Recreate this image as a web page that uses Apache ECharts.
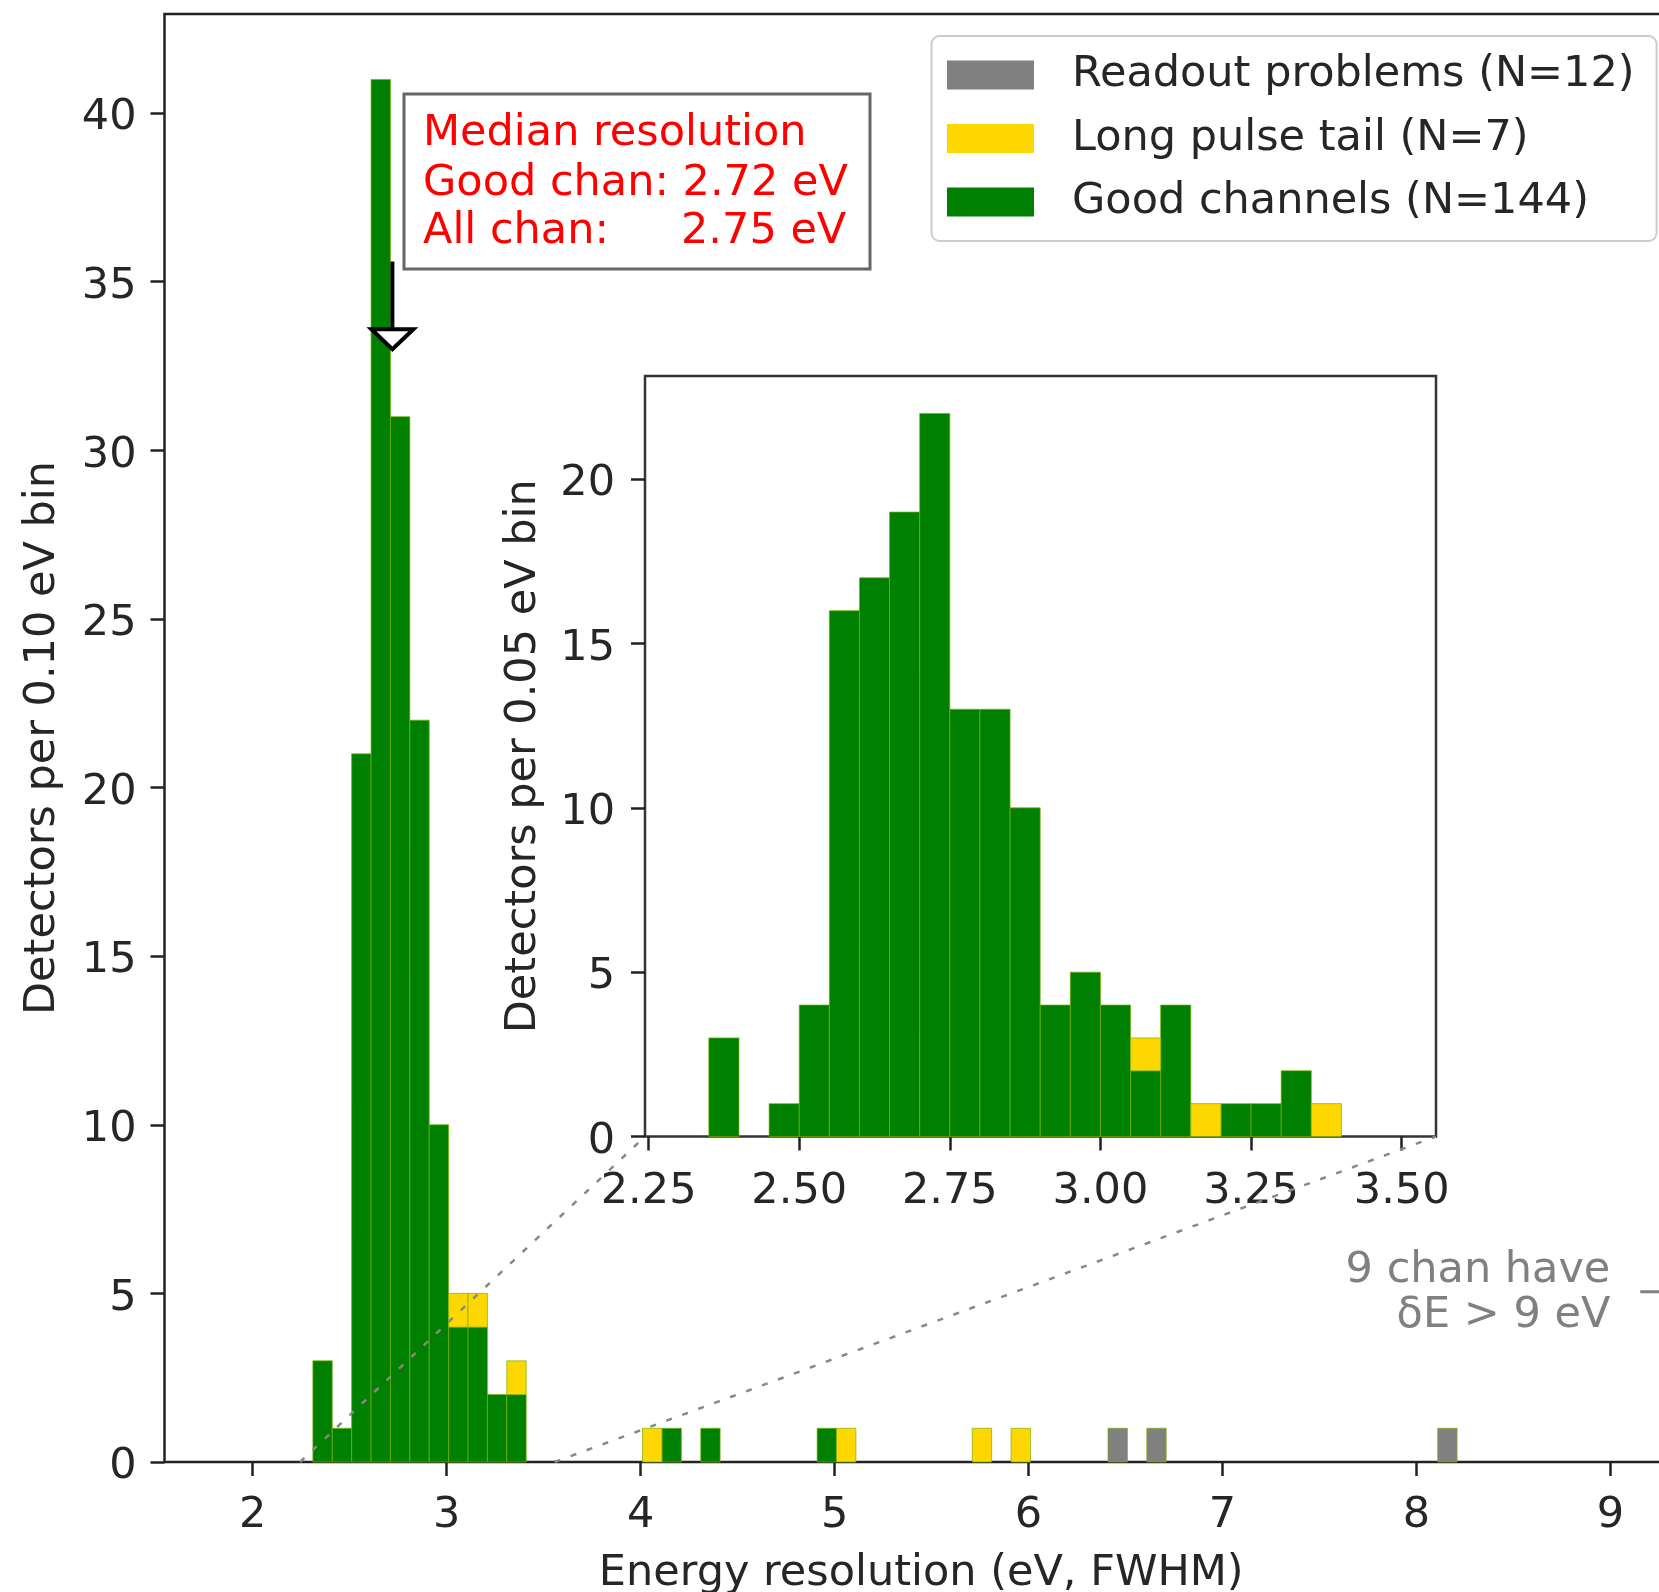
<!DOCTYPE html>
<html lang="en">
  <head>
    <meta charset="UTF-8" />
    <title>Energy resolution histogram</title>
    <script src="https://cdn.jsdelivr.net/npm/echarts@6.0.0/dist/echarts.min.js"></script>
    <style>
      body { margin: 0; background: #fff; }
    </style>
  </head>
  <body>
    <div id="main" style="width: 1659px; height: 1592px"></div>
    <script type="text/javascript">
      // main histogram, 0.10 eV bins (left edges)
      const mainBinWidth = 0.1;
      const mainGoodBins = [2.31, 2.41, 2.51, 2.61, 2.71, 2.81, 2.91, 3.01, 3.11, 3.21, 3.31, 4.11, 4.31, 4.91];
      const mainGoodCounts = [3, 1, 21, 41, 31, 22, 10, 4, 4, 2, 2, 1, 1, 1];
      const mainTailBins = [3.01, 3.11, 3.31, 4.01, 5.01, 5.71, 5.91];
      const mainTailCounts = [1, 1, 1, 1, 1, 1, 1];
      const mainReadoutBins = [6.41, 6.61, 8.11];
      const mainReadoutCounts = [1, 1, 1];

      // inset histogram, 0.05 eV bins
      const insetBinWidth = 0.05;
      const insetBins = [2.35, 2.4, 2.45, 2.5, 2.55, 2.6, 2.65, 2.7, 2.75, 2.8, 2.85,
        2.9, 2.95, 3.0, 3.05, 3.1, 3.15, 3.2, 3.25, 3.3, 3.35];
      const insetGoodCounts = [3, 0, 1, 4, 16, 17, 19, 22, 13, 13, 10, 4, 5, 4, 2, 4, 0, 1, 1, 2, 0];
      const insetTailCounts = [0, 0, 0, 0, 0, 0, 0, 0, 0, 0, 0, 0, 0, 0, 1, 0, 1, 0, 0, 0, 1];

      const mainXTicks = [2, 3, 4, 5, 6, 7, 8, 9];
      const mainYTicks = [0, 5, 10, 15, 20, 25, 30, 35, 40];
      const insetXTicks = [2.25, 2.5, 2.75, 3.0, 3.25, 3.5];
      const insetYTicks = [0, 5, 10, 15, 20];

      const goodMedian = 2.72;
      const insetXMin = 2.244, insetXMax = 3.557;

      const readoutName = "Readout problems (N=12)";
      const tailName = "Long pulse tail (N=7)";
      const goodName = "Good channels (N=144)";

      const FONT = "DejaVu Sans";
      const TXT = "#262626";

      // stacked rectangles [x0, x1, y0, y1]
      function stack(bins, counts, width, base) {
        const out = [];
        bins.forEach((b, i) => {
          if (!counts[i]) return;
          const key = b.toFixed(2);
          const y0 = base[key] || 0;
          out.push([b, b + width, y0, y0 + counts[i]]);
          base[key] = y0 + counts[i];
        });
        return out;
      }
      const mainBase = {};
      const mainGood = stack(mainGoodBins, mainGoodCounts, mainBinWidth, mainBase);
      const mainTail = stack(mainTailBins, mainTailCounts, mainBinWidth, mainBase);
      const mainReadout = stack(mainReadoutBins, mainReadoutCounts, mainBinWidth, mainBase);
      const insetBase = {};
      const insetGood = stack(insetBins, insetGoodCounts, insetBinWidth, insetBase);
      const insetTail = stack(insetBins, insetTailCounts, insetBinWidth, insetBase);

      function renderBar(params, api) {
        const p0 = api.coord([api.value(0), api.value(3)]);
        const p1 = api.coord([api.value(1), api.value(2)]);
        return {
          type: "rect",
          shape: { x: p0[0], y: p0[1], width: p1[0] - p0[0], height: p1[1] - p0[1] },
          style: { fill: api.visual("color"), stroke: "rgba(120,175,0,0.7)", lineWidth: 1 },
        };
      }

      function histSeries(name, data, color, idx) {
        return {
          type: "custom",
          name: name,
          xAxisIndex: idx,
          yAxisIndex: idx,
          itemStyle: { color: color },
          renderItem: renderBar,
          encode: { x: [0, 1], y: [2, 3] },
          data: data,
          z: 2,
        };
      }

      const labelStyle = { fontFamily: FONT, fontSize: 43, color: TXT };
      const tickStyle = { length: 14, lineStyle: { color: "#222", width: 2.5 } };
      // y tick labels sit a little low in matplotlib, nudge them down
      const yLabelRich = {
        formatter: (v) => "{v|" + v + "}",
        rich: { v: { fontFamily: FONT, fontSize: 43, color: TXT, padding: [10, 0, 0, 0] } },
      };

      function valueAxis(opts) {
        return Object.assign(
          {
            type: "value",
            splitLine: { show: false },
            axisLine: { show: false },
            nameTextStyle: { fontFamily: FONT, fontSize: 43, color: TXT },
          },
          opts
        );
      }

      let myChart = echarts.init(document.getElementById("main"));
      myChart.setOption({
        backgroundColor: "#fff",
        animation: false,
        grid: [
          {
            left: 164.5, top: 14, width: 1513.5, height: 1448,
            outerBoundsMode: "none", containLabel: false,
            show: true, borderColor: "#222", borderWidth: 2.5,
          },
          {
            left: 645, top: 376, width: 791, height: 760.5,
            outerBoundsMode: "none", containLabel: false,
            show: true, backgroundColor: "#fff", borderColor: "#333", borderWidth: 2.5,
          },
        ],
        xAxis: [
          valueAxis({
            gridIndex: 0, min: 1.545, max: 9.349,
            name: "Energy resolution (eV, FWHM)", nameLocation: "middle", nameGap: 90,
            axisTick: Object.assign({ customValues: mainXTicks }, tickStyle),
            axisLabel: Object.assign({ customValues: mainXTicks, margin: 32 }, labelStyle),
          }),
          valueAxis({
            gridIndex: 1, min: insetXMin, max: insetXMax,
            axisTick: Object.assign({ customValues: insetXTicks }, tickStyle),
            axisLabel: Object.assign({ customValues: insetXTicks, margin: 34, formatter: (v) => v.toFixed(2) }, labelStyle),
          }),
        ],
        yAxis: [
          valueAxis({
            gridIndex: 0, min: 0, max: 42.94,
            name: "Detectors per 0.10 eV bin", nameLocation: "middle", nameGap: 100,
            axisTick: Object.assign({ customValues: mainYTicks }, tickStyle),
            axisLabel: Object.assign({ customValues: mainYTicks, margin: 28 }, labelStyle, yLabelRich),
          }),
          valueAxis({
            gridIndex: 1, min: 0, max: 23.14,
            name: "Detectors per 0.05 eV bin", nameLocation: "middle", nameGap: 100,
            axisTick: Object.assign({ customValues: insetYTicks }, tickStyle),
            axisLabel: Object.assign({ customValues: insetYTicks, margin: 30 }, labelStyle, yLabelRich),
          }),
        ],
        legend: {
          data: [readoutName, tailName, goodName],
          orient: "vertical",
          left: 931.5,
          top: 36,
          padding: [15, 22, 15, 15.5],
          itemWidth: 87,
          itemHeight: 29,
          itemGap: 15.5,
          icon: "rect",
          selectedMode: false,
          backgroundColor: "rgba(255,255,255,0.8)",
          borderColor: "#ccc",
          borderWidth: 2,
          borderRadius: 8,
          textStyle: { fontFamily: FONT, fontSize: 43, color: TXT, lineHeight: 48, padding: [0, 0, 0, 33] },
          z: 10,
        },
        series: [
          histSeries(goodName, mainGood, "#008000", 0),
          histSeries(tailName, mainTail, "#ffd700", 0),
          histSeries(readoutName, mainReadout, "#808080", 0),
          histSeries(goodName, insetGood, "#008000", 1),
          histSeries(tailName, insetTail, "#ffd700", 1),
        ],
      });

      // annotations placed from data coordinates
      const px = (g, pt) => myChart.convertToPixel({ gridIndex: g }, pt);
      const tip = px(0, [goodMedian, 33]);
      const tail = px(0, [goodMedian, 35.6]);
      const c1a = px(0, [insetXMin, 0]), c1b = px(1, [insetXMin, 0]);
      const c2a = px(0, [insetXMax, 0]), c2b = px(1, [insetXMax, 0]);
      const note = px(0, [9, 5.05]);
      const dotted = { stroke: "#888", lineWidth: 2.5, lineDash: [6, 11] };
      const red = { fill: "#ff0000", fontFamily: FONT, fontSize: 43, verticalAlign: "middle" };
      const gray = { fill: "#808080", fontFamily: FONT, fontSize: 43, verticalAlign: "middle", align: "right" };

      myChart.setOption({
        graphic: [
          { type: "line", z: 20, shape: { x1: c1a[0], y1: c1a[1], x2: c1b[0], y2: c1b[1] }, style: dotted },
          { type: "line", z: 20, shape: { x1: c2a[0], y1: c2a[1], x2: c2b[0], y2: c2b[1] }, style: dotted },
          { type: "rect", z: 20, shape: { x: 404, y: 94, width: 466, height: 175 }, style: { fill: "#fff", stroke: "#666", lineWidth: 3 } },
          { type: "text", z: 21, x: 423, y: 134, style: Object.assign({ text: "Median resolution" }, red) },
          { type: "text", z: 21, x: 423, y: 184, style: Object.assign({ text: "Good chan: 2.72 eV" }, red) },
          { type: "text", z: 21, x: 423, y: 232, style: Object.assign({ text: "All chan:" }, red) },
          { type: "text", z: 21, x: 681, y: 232, style: Object.assign({ text: "2.75 eV" }, red) },
          { type: "line", z: 21, shape: { x1: tail[0], y1: tail[1], x2: tip[0], y2: tip[1] - 19 }, style: { stroke: "#000", lineWidth: 4 } },
          {
            type: "polygon", z: 22,
            shape: { points: [[tip[0] - 21, tip[1] - 20], [tip[0] + 21, tip[1] - 20], [tip[0], tip[1]]] },
            style: { fill: "#fff", stroke: "#000", lineWidth: 4, lineJoin: "miter" },
          },
          { type: "text", z: 21, x: note[0], y: note[1] - 21, style: Object.assign({ text: "9 chan have" }, gray) },
          { type: "text", z: 21, x: note[0], y: note[1] + 24, style: Object.assign({ text: "\u03b4E > 9 eV" }, gray) },
          { type: "line", z: 21, shape: { x1: note[0] + 30, y1: note[1], x2: note[0] + 90, y2: note[1] }, style: { stroke: "#808080", lineWidth: 3 } },
        ],
      });
    </script>
  </body>
</html>
